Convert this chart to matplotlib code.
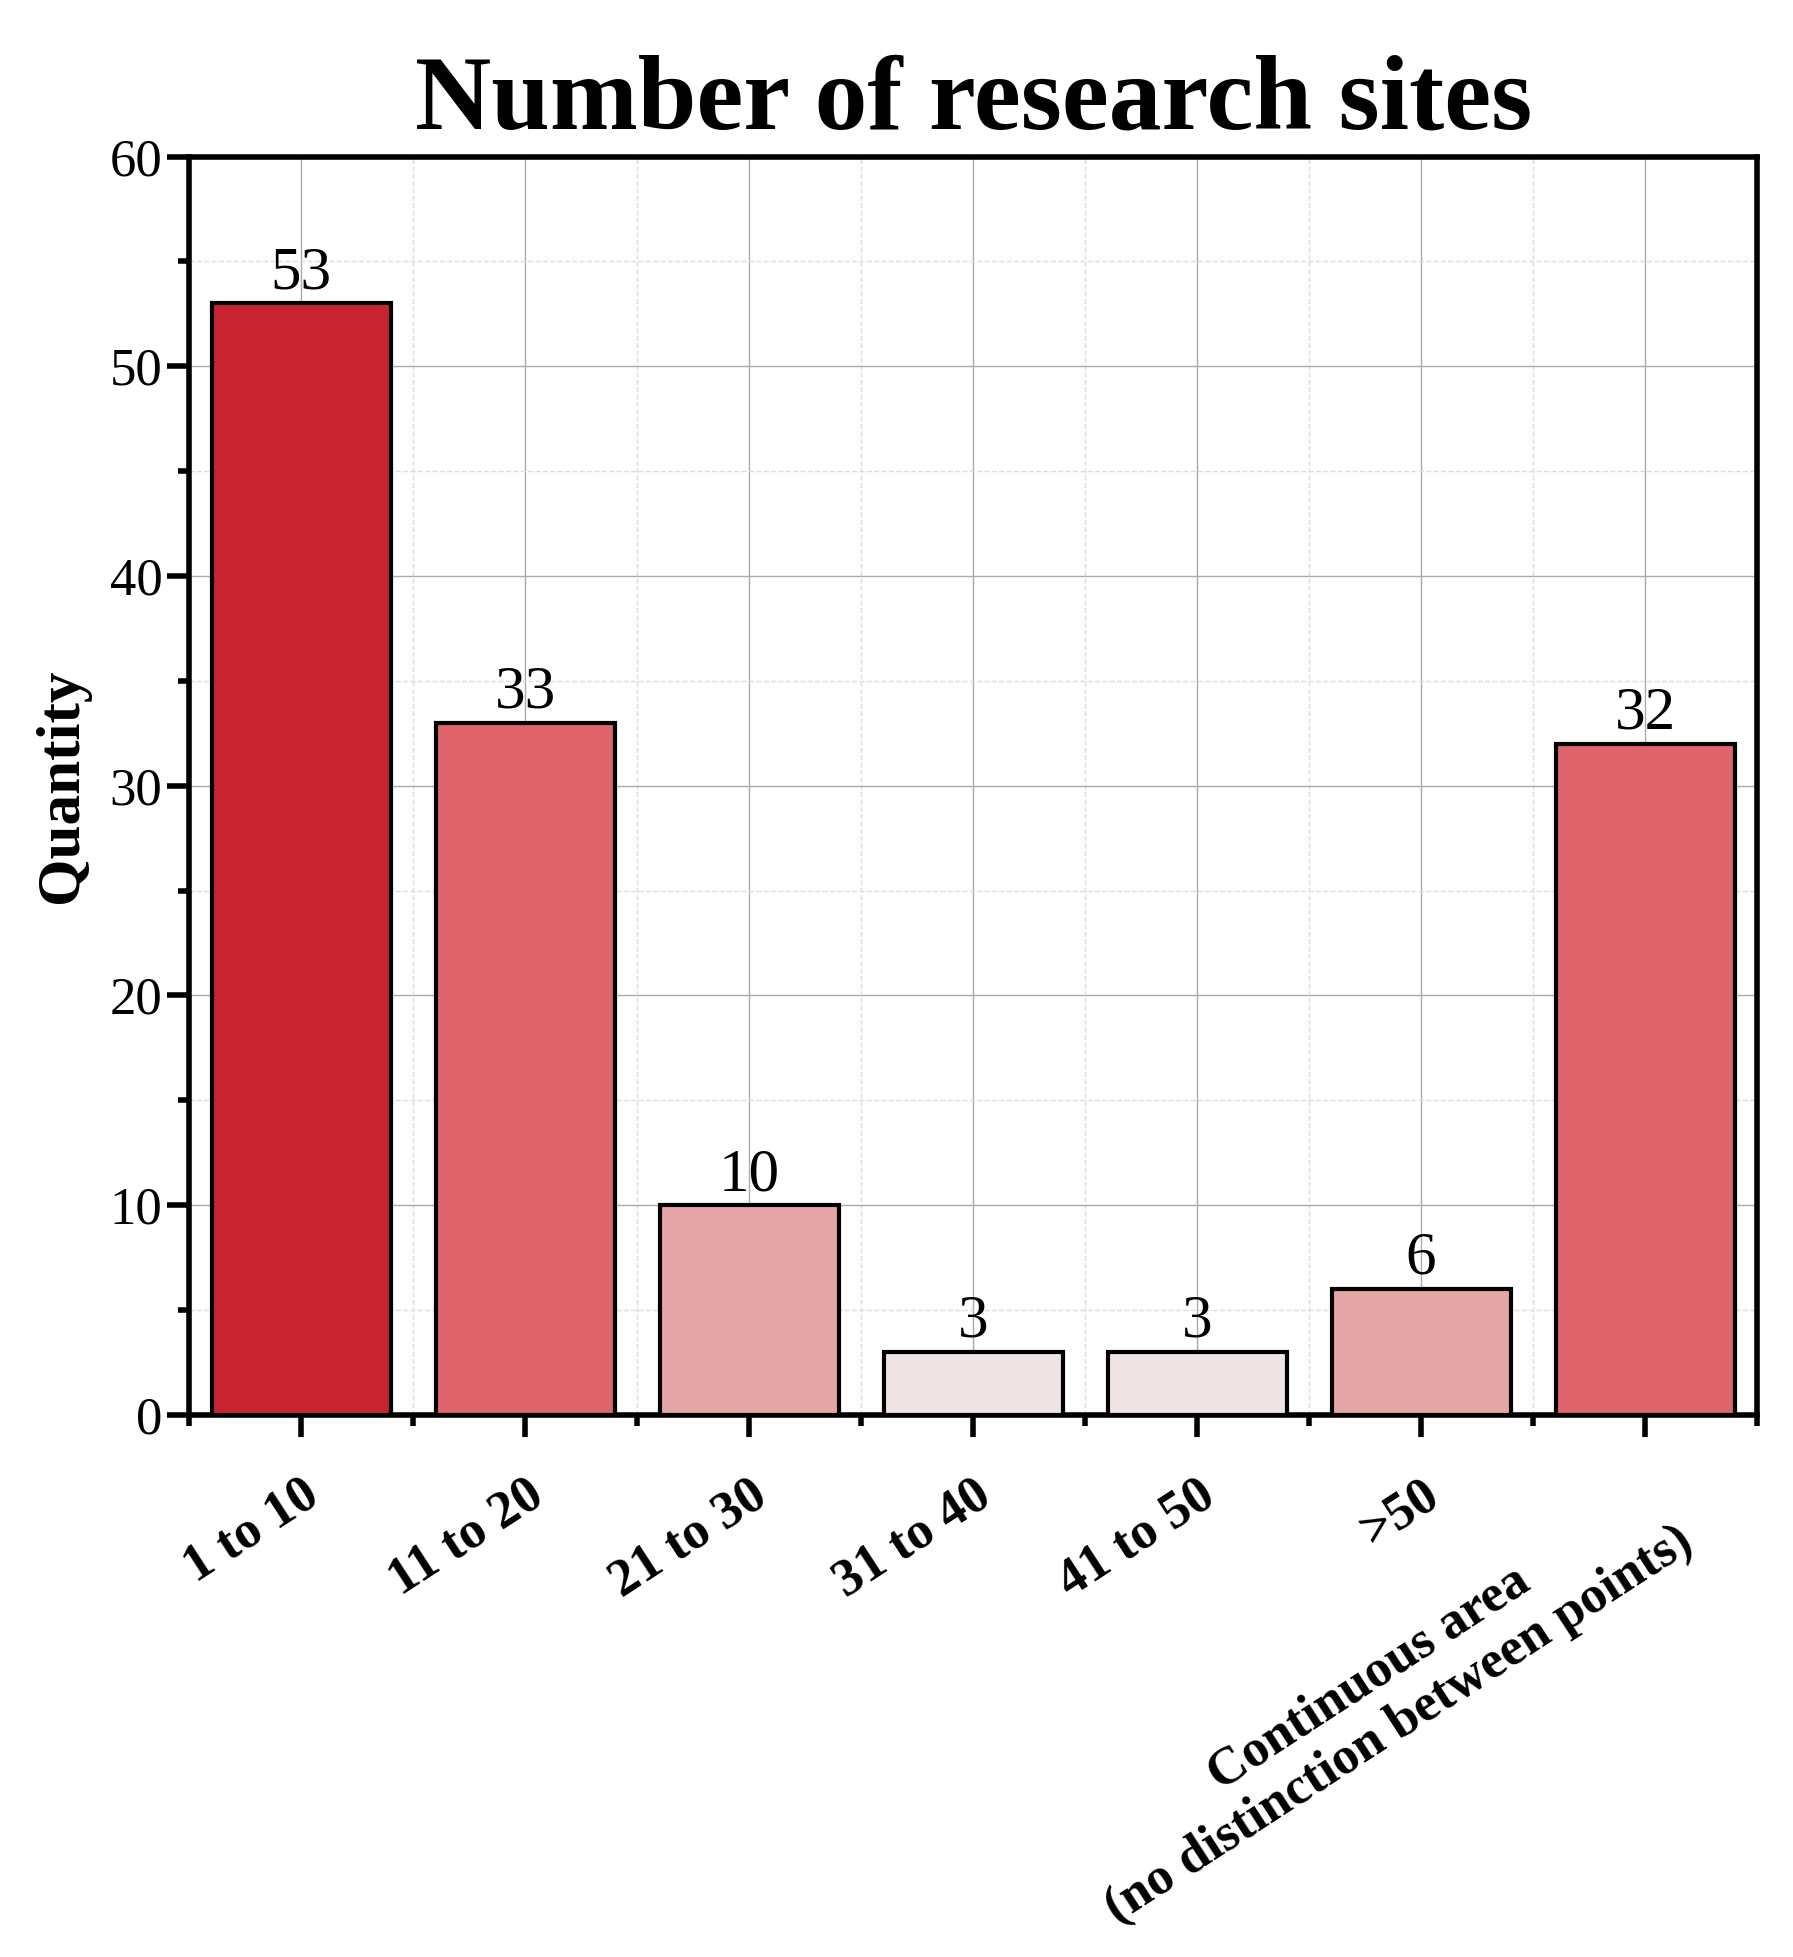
import matplotlib
matplotlib.use("Agg")
import matplotlib.pyplot as plt
from matplotlib.ticker import MultipleLocator

categories = ["1 to 10", "11 to 20", "21 to 30", "31 to 40", "41 to 50", ">50",
              "Continuous area\n(no distinction between points)"]
values = [53, 33, 10, 3, 3, 6, 32]
colors = ["#C8242F", "#E0646C", "#E6A6A8", "#F0E4E4", "#F0E4E4", "#E6A6A8", "#E0646C"]

plt.rcParams['font.family'] = ['Liberation Serif', 'DejaVu Serif']
fig = plt.figure(figsize=(17.93, 19.57), dpi=100)
ax = fig.add_axes([0.1056, 0.277, 0.8744, 0.643])
x = list(range(len(categories)))
ax.bar(x, values, width=0.8, color=colors, edgecolor="black", linewidth=3, zorder=3)
for xi, v in zip(x, values):
    ax.text(xi, v + 0.1, str(v), ha="center", va="bottom", fontsize=44, zorder=4)
ax.set_xlim(-0.5, 6.5)
ax.set_ylim(0, 60)
ax.yaxis.set_major_locator(MultipleLocator(10))
ax.yaxis.set_minor_locator(MultipleLocator(5))
ax.set_xticks(x)
ax.set_xticks([i + 0.5 for i in range(-1, 7)], minor=True)
ax.set_xticklabels(categories, rotation=33, ha="right", rotation_mode="anchor",
                   fontsize=36, fontweight="bold", multialignment="center")
ax.grid(which="major", color="#AAAAAA", linewidth=1, zorder=0)
ax.grid(which="minor", color="#DDDDDD", linewidth=1, linestyle="--", zorder=0)
for s in ax.spines.values():
    s.set_linewidth(4)
ax.tick_params(axis="both", which="major", length=16, width=4, labelsize=38, direction="out")
ax.tick_params(axis="both", which="minor", length=8, width=4, direction="out")
ax.tick_params(axis="x", which="major", pad=24)
ax.set_ylabel("Quantity", fontsize=44, fontweight="bold", labelpad=14)
ax.set_title("Number of research sites", fontsize=76, fontweight="bold", pad=20)
fig.savefig("out.png", dpi=100)
